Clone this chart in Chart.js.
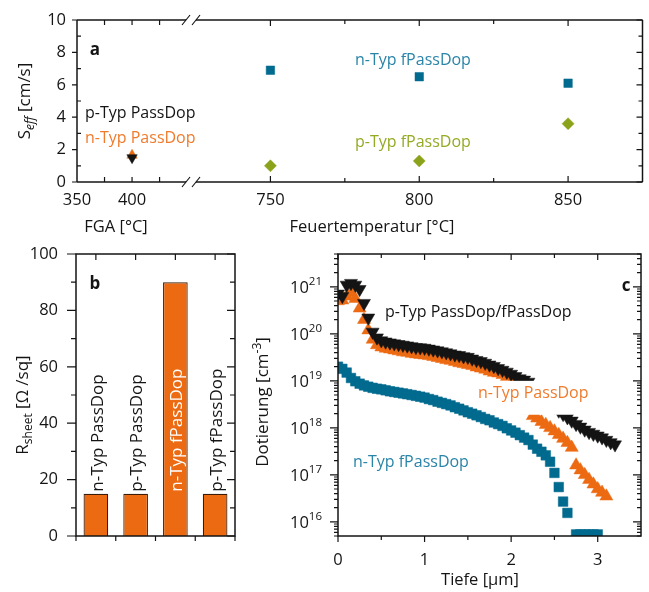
<!DOCTYPE html>
<html>
<head>
<meta charset="utf-8">
<title>PassDop / fPassDop</title>
<script src="https://cdn.jsdelivr.net/npm/chart.js@4.4.1/dist/chart.umd.min.js"></script>
<style>
  body { margin: 0; background: #fff; }
  #fig { position: relative; width: 649px; height: 592px; }
  #fig canvas { position: absolute; left: 0; top: 0; }
</style>
</head>
<body>
<div id="fig">
  <canvas id="seffLow" width="649" height="592"></canvas>
  <canvas id="seffHigh" width="649" height="592"></canvas>
  <canvas id="sheet" width="649" height="592"></canvas>
  <canvas id="profile" width="649" height="592"></canvas>
</div>
<script>
// (a) S_eff after forming gas anneal and after firing
const fgaTemp = [400];
const seffNPassDop = [1.65];
const seffPPassDop = [1.5];
const fireTemp = [750, 800, 850];
const seffNfPassDop = [6.9, 6.5, 6.1];
const seffPfPassDop = [1.0, 1.3, 3.6];
const seffTicks = [0, 2, 4, 6, 8, 10];
const fgaTicks = [350, 400];
const fireTicks = [750, 800, 850];

// (b) sheet resistance
const sheetNames = ["n-Typ PassDop", "p-Typ PassDop", "n-Typ fPassDop", "p-Typ fPassDop"];
const sheetValues = [15, 15, 90, 15];
const sheetTicks = [0, 20, 40, 60, 80, 100];

// (c) doping profiles, depth in µm, doping in cm^-3
const depth = [0, 0.05, 0.1, 0.15, 0.2, 0.25, 0.3, 0.35, 0.4, 0.45,
  0.5, 0.55, 0.6, 0.65, 0.7, 0.75, 0.8, 0.85, 0.9, 0.95,
  1, 1.05, 1.1, 1.15, 1.2, 1.25, 1.3, 1.35, 1.4, 1.45,
  1.5, 1.55, 1.6, 1.65, 1.7, 1.75, 1.8, 1.85, 1.9, 1.95,
  2, 2.05, 2.1, 2.15, 2.2, 2.25, 2.3, 2.35, 2.4, 2.45,
  2.5, 2.55, 2.6, 2.65, 2.7, 2.75, 2.8, 2.85, 2.9, 2.95,
  3, 3.05, 3.1, 3.15, 3.2];
const dopP = [7.1e20, 6.3e20, 1.1e21, 1.2e21, 1.1e21, 8.9e20, 4.5e20, 2.2e20, 1.1e20, 8.3e19,
  7.2e19, 6.8e19, 6.5e19, 6.2e19, 6.0e19, 5.8e19, 5.6e19, 5.4e19, 5.2e19, 5.1e19,
  5.0e19, 4.8e19, 4.6e19, 4.4e19, 4.2e19, 4.0e19, 3.8e19, 3.6e19, 3.5e19, 3.3e19,
  3.2e19, 2.95e19, 2.75e19, 2.6e19, 2.4e19, 2.2e19, 2.05e19, 1.85e19, 1.7e19, 1.55e19,
  1.4e19, 1.25e19, 1.12e19, 1.05e19, 9.5e18, 7.9e18, 6.5e18, 5.2e18, 4.3e18, 3.5e18,
  2.8e18, 2.3e18, 1.95e18, 1.66e18, 1.41e18, 1.2e18, 1.05e18, 9.1e17, 8.1e17, 7.4e17,
  6.8e17, 6.2e17, 5.5e17, 4.9e17, 4.4e17];
const dopN = [5.0e20, 5.2e20, 6.3e20, 7.4e20, 5.6e20, 3.5e20, 2.0e20, 1.2e20, 7.6e19, 5.8e19,
  5.2e19, 4.9e19, 4.7e19, 4.5e19, 4.3e19, 4.1e19, 4.0e19, 3.8e19, 3.7e19, 3.6e19,
  3.5e19, 3.4e19, 3.25e19, 3.1e19, 2.95e19, 2.8e19, 2.7e19, 2.55e19, 2.4e19, 2.3e19,
  2.2e19, 2.1e19, 1.95e19, 1.85e19, 1.75e19, 1.6e19, 1.5e19, 1.45e19, 1.35e19, 1.23e19,
  8.9e18, 6.6e18, 4.7e18, 3.3e18, 2.4e18, 1.8e18, 1.6e18, 1.35e18, 1.17e18, 1.0e18,
  8.5e17, 7.1e17, 5.9e17, 4.8e17, 3.8e17, 1.6e17, 1.26e17, 1.0e17, 7.9e16, 6.3e16,
  5.0e16, 4.2e16, 3.5e16];
const dopNf = [2.0e19, 1.8e19, 1.5e19, 1.15e19, 9.8e18, 8.7e18, 8.0e18, 7.5e18, 7.1e18, 6.8e18,
  6.6e18, 6.3e18, 6.0e18, 5.8e18, 5.6e18, 5.4e18, 5.2e18, 5.0e18, 4.8e18, 4.6e18,
  4.4e18, 4.1e18, 3.9e18, 3.6e18, 3.4e18, 3.2e18, 3.0e18, 2.75e18, 2.55e18, 2.35e18,
  2.15e18, 2.0e18, 1.85e18, 1.7e18, 1.55e18, 1.45e18, 1.3e18, 1.2e18, 1.1e18, 9.8e17,
  8.8e17, 7.9e17, 7.0e17, 6.2e17, 5.5e17, 4.4e17, 3.6e17, 3.1e17, 2.6e17, 1.9e17,
  1.1e17, 5.5e16, 2.7e16, 1.55e16, null, 5.4e15, 5.4e15, 5.4e15, 5.4e15, 5.4e15, 5.4e15];
const depthTicks = [0, 1, 2, 3];
const dopDecades = [16, 17, 18, 19, 20, 21];

const W = 649, H = 592;
const FAMILY = '"Open Sans", "DejaVu Sans", sans-serif';
const INK = "#141414";
const ORANGE = "#ec6a12";
const BLUE = "#006b8f";
const GREEN = "#8ba21b";
const BLUE_TXT = "#2a84a8";
const GREEN_TXT = "#93aa25";
const ORANGE_TXT = "#f07b2c";
const tickFont = "16.5px " + FAMILY;
const labelFont = "16px " + FAMILY;

function seg(ctx, x1, y1, x2, y2) {
  ctx.beginPath();
  ctx.moveTo(x1, y1);
  ctx.lineTo(x2, y2);
  ctx.stroke();
}

// tick marks along one edge of the plot box; len > 0 points into the plot
function edgeTicks(chart, axis, edge, values, len) {
  const { ctx, chartArea: a } = chart;
  const sc = chart.scales[axis];
  ctx.beginPath();
  for (const v of values) {
    const p = sc.getPixelForValue(v);
    if (edge === "bottom") { ctx.moveTo(p, a.bottom); ctx.lineTo(p, a.bottom - len); }
    if (edge === "top") { ctx.moveTo(p, a.top); ctx.lineTo(p, a.top + len); }
    if (edge === "left") { ctx.moveTo(a.left, p); ctx.lineTo(a.left + len, p); }
    if (edge === "right") { ctx.moveTo(a.right, p); ctx.lineTo(a.right - len, p); }
  }
  ctx.stroke();
}

function text(ctx, str, x, y, font, color, align) {
  ctx.font = font;
  ctx.fillStyle = color;
  ctx.textAlign = align || "left";
  ctx.textBaseline = "middle";
  ctx.fillText(str, x, y);
}

// runs of text side by side, each run with its own font and vertical shift
function richText(ctx, runs, x, y, align, color) {
  let w = 0;
  for (const r of runs) { ctx.font = r.font; w += ctx.measureText(r.t).width; }
  let cx = align === "center" ? x - w / 2 : align === "right" ? x - w : x;
  ctx.fillStyle = color || INK;
  ctx.textAlign = "left";
  ctx.textBaseline = "alphabetic";
  for (const r of runs) {
    ctx.font = r.font;
    ctx.fillText(r.t, cx, y + (r.dy || 0));
    cx += ctx.measureText(r.t).width;
  }
}

function verticalTitle(ctx, runs, x, y) {
  ctx.save();
  ctx.translate(x, y);
  ctx.rotate(-Math.PI / 2);
  richText(ctx, runs, 0, 6, "center");
  ctx.restore();
}

function slash(ctx, x, y) {
  seg(ctx, x - 4, y + 5, x + 4, y - 5);
}

const pts = (xs, ys) => ys.map((y, i) => ({ x: xs[i], y })).filter(p => p.y !== null);

function markers(data, style, color, r, rot) {
  return {
    data,
    pointStyle: style,
    pointRadius: r,
    pointRotation: rot || 0,
    pointBackgroundColor: color,
    pointBorderColor: color,
    pointBorderWidth: 0.5,
  };
}

function baseOptions(area, xs, ys) {
  return {
    responsive: false,
    animation: false,
    events: [],
    layout: { padding: { left: area[0], top: area[1], right: W - area[2], bottom: H - area[3] } },
    scales: { x: Object.assign({ display: false }, xs), y: Object.assign({ display: false }, ys) },
    plugins: { legend: { display: false }, tooltip: { enabled: false } },
  };
}

// ---------- (a) left part: forming gas anneal ----------
new Chart(document.getElementById("seffLow"), {
  type: "scatter",
  data: {
    datasets: [
      markers(pts(fgaTemp, seffPPassDop), "triangle", INK, 6, 180),
      markers(pts(fgaTemp, seffNPassDop), "triangle", ORANGE, 6),
    ],
  },
  options: baseOptions([77, 20, 186, 182], { type: "linear", min: 350, max: 449 }, { min: 0, max: 10 }),
  plugins: [{
    id: "seffLowDecor",
    afterDatasetsDraw(chart) {
      const { ctx, chartArea: a } = chart;
      ctx.save();
      ctx.strokeStyle = INK;
      ctx.lineWidth = 1.5;
      seg(ctx, a.left, a.top, a.left, a.bottom);
      seg(ctx, a.left, a.top, a.right, a.top);
      seg(ctx, a.left, a.bottom, a.right, a.bottom);
      ctx.lineWidth = 1.2;
      slash(ctx, a.right, a.top);
      slash(ctx, a.right, a.bottom);
      edgeTicks(chart, "y", "left", seffTicks, -5);
      edgeTicks(chart, "y", "left", [1, 3, 5, 7, 9], 4);
      edgeTicks(chart, "x", "bottom", [375, 400, 425], 5);
      edgeTicks(chart, "x", "top", [375, 400, 425], 5);
      for (const v of seffTicks) text(ctx, String(v), 66, chart.scales.y.getPixelForValue(v), tickFont, INK, "right");
      for (const v of fgaTicks) text(ctx, String(v), chart.scales.x.getPixelForValue(v), 200, tickFont, INK, "center");
      text(ctx, "FGA [°C]", 116, 227, tickFont, INK, "center");
      verticalTitle(ctx, [
        { t: "S", font: "17px " + FAMILY },
        { t: "eff", font: "italic 12px " + FAMILY, dy: 4 },
        { t: " [cm/s]", font: "17px " + FAMILY },
      ], 24, 101);
      text(ctx, "a", 95, 50, "bold 17px " + FAMILY, INK, "center");
      text(ctx, "p-Typ PassDop", 85, 113, labelFont, INK);
      text(ctx, "n-Typ PassDop", 85, 138, labelFont, ORANGE_TXT);
      ctx.restore();
    },
  }],
});

// ---------- (a) right part: firing temperature ----------
new Chart(document.getElementById("seffHigh"), {
  type: "scatter",
  data: {
    datasets: [
      markers(pts(fireTemp, seffNfPassDop), "rect", BLUE, 6),
      markers(pts(fireTemp, seffPfPassDop), "rectRot", GREEN, 6),
    ],
  },
  options: baseOptions([196, 20, 647, 182], { type: "linear", min: 725, max: 875 }, { min: 0, max: 10 }),
  plugins: [{
    id: "seffHighDecor",
    afterDatasetsDraw(chart) {
      const { ctx, chartArea: a } = chart;
      ctx.save();
      ctx.strokeStyle = INK;
      ctx.lineWidth = 1.5;
      seg(ctx, a.right, a.top, a.right, a.bottom);
      seg(ctx, a.left, a.top, a.right, a.top);
      seg(ctx, a.left, a.bottom, a.right, a.bottom);
      ctx.lineWidth = 1.2;
      slash(ctx, a.left, a.top);
      slash(ctx, a.left, a.bottom);
      edgeTicks(chart, "y", "right", seffTicks, 6);
      edgeTicks(chart, "y", "right", [1, 3, 5, 7, 9], 4);
      edgeTicks(chart, "x", "bottom", fireTicks, 6);
      edgeTicks(chart, "x", "bottom", [775, 825], 4);
      edgeTicks(chart, "x", "top", fireTicks, 6);
      edgeTicks(chart, "x", "top", [775, 825], 4);
      for (const v of fireTicks) text(ctx, String(v), chart.scales.x.getPixelForValue(v), 200, tickFont, INK, "center");
      text(ctx, "Feuertemperatur [°C]", 372, 227, tickFont, INK, "center");
      text(ctx, "n-Typ fPassDop", 355, 60, labelFont, BLUE_TXT);
      text(ctx, "p-Typ fPassDop", 355, 142, labelFont, GREEN_TXT);
      ctx.restore();
    },
  }],
});

// ---------- (b) sheet resistance ----------
new Chart(document.getElementById("sheet"), {
  type: "bar",
  data: {
    labels: sheetNames,
    datasets: [{
      data: sheetValues,
      backgroundColor: ORANGE,
      borderColor: "#3a1c08",
      borderWidth: 1.2,
      barPercentage: 0.62,
      categoryPercentage: 1,
    }],
  },
  options: baseOptions([76, 254, 235, 536], {}, { min: 0, max: 100 }),
  plugins: [{
    id: "sheetDecor",
    afterDatasetsDraw(chart) {
      const { ctx, chartArea: a } = chart;
      const x = chart.scales.x, y = chart.scales.y;
      ctx.save();
      ctx.strokeStyle = INK;
      ctx.lineWidth = 1.5;
      ctx.strokeRect(a.left, a.top, a.right - a.left, a.bottom - a.top);
      ctx.lineWidth = 1.2;
      edgeTicks(chart, "y", "left", sheetTicks, -9);
      edgeTicks(chart, "y", "left", [10, 30, 50, 70, 90], -5);
      edgeTicks(chart, "y", "right", sheetTicks, 8);
      edgeTicks(chart, "y", "right", [10, 30, 50, 70, 90], 5);
      edgeTicks(chart, "x", "bottom", [-0.5, 0.5, 1.5, 2.5, 3.5], -5);
      edgeTicks(chart, "x", "top", [0, 1, 2, 3], 6);
      for (const v of sheetTicks) text(ctx, String(v), 58, y.getPixelForValue(v), tickFont, INK, "right");
      verticalTitle(ctx, [
        { t: "R", font: "17px " + FAMILY },
        { t: "sheet", font: "12px " + FAMILY, dy: 4 },
        { t: " [Ω /sq]", font: "17px " + FAMILY },
      ], 22, 405);
      text(ctx, "b", 95, 284, "bold 17px " + FAMILY, INK, "center");
      // names written upwards, starting just above the shortest bar
      const start = y.getPixelForValue(Math.min(...sheetValues)) - 2;
      chart.getDatasetMeta(0).data.forEach((bar, i) => {
        ctx.save();
        ctx.translate(bar.x + 2, start);
        ctx.rotate(-Math.PI / 2);
        ctx.font = "17px " + FAMILY;
        const inside = bar.y < start - ctx.measureText(sheetNames[i]).width;
        text(ctx, sheetNames[i], 0, 0, "17px " + FAMILY, inside ? "#fff" : INK, "left");
        ctx.restore();
      });
      ctx.restore();
    },
  }],
});

// ---------- (c) doping profiles ----------
const logMajor = dopDecades.map(e => Math.pow(10, e));
const logMinor = [];
for (let e = 15; e <= 21; e++) {
  for (let k = 2; k <= 9; k++) {
    const v = k * Math.pow(10, e);
    if (v >= 5e15 && v <= 5e21) logMinor.push(v);
  }
}

new Chart(document.getElementById("profile"), {
  type: "scatter",
  data: {
    datasets: [
      markers(pts(depth, dopP), "triangle", INK, 7.5, 180),
      markers(pts(depth, dopN), "triangle", ORANGE, 7.5),
      markers(pts(depth, dopNf), "rect", BLUE, 6.8),
    ],
  },
  options: baseOptions([338, 254, 647, 536], { type: "linear", min: 0, max: 3.5 }, { type: "logarithmic", min: 5e15, max: 5e21 }),
  plugins: [{
    id: "profileDecor",
    afterDatasetsDraw(chart) {
      const { ctx, chartArea: a } = chart;
      const x = chart.scales.x, y = chart.scales.y;
      ctx.save();
      // white backing behind the n-type label
      const bx = x.getPixelForValue(1.78), by = y.getPixelForValue(1.0e19);
      ctx.fillStyle = "#fff";
      ctx.fillRect(bx, by, x.getPixelForValue(3.45) - bx, y.getPixelForValue(1.9e18) - by);
      ctx.strokeStyle = INK;
      ctx.lineWidth = 1.5;
      ctx.strokeRect(a.left, a.top, a.right - a.left, a.bottom - a.top);
      ctx.lineWidth = 1.2;
      edgeTicks(chart, "y", "left", logMajor, -8);
      edgeTicks(chart, "y", "left", logMinor, -4);
      edgeTicks(chart, "y", "right", logMajor, 8);
      edgeTicks(chart, "y", "right", logMinor, 4);
      edgeTicks(chart, "x", "bottom", depthTicks, -6);
      edgeTicks(chart, "x", "bottom", [0.5, 1.5, 2.5], -4);
      edgeTicks(chart, "x", "top", depthTicks, 6);
      edgeTicks(chart, "x", "top", [0.5, 1.5, 2.5], 4);
      for (const v of depthTicks) text(ctx, String(v), x.getPixelForValue(v), 560, tickFont, INK, "center");
      dopDecades.forEach((e, i) => {
        richText(ctx, [
          { t: "10", font: tickFont },
          { t: String(e), font: "11.5px " + FAMILY, dy: -8 },
        ], 322, y.getPixelForValue(logMajor[i]) + 6, "right");
      });
      text(ctx, "Tiefe [µm]", 480, 580, tickFont, INK, "center");
      verticalTitle(ctx, [
        { t: "Dotierung [cm", font: "17px " + FAMILY },
        { t: "-3", font: "12px " + FAMILY, dy: -7 },
        { t: "]", font: "17px " + FAMILY },
      ], 262, 402);
      text(ctx, "c", 626, 286, "bold 17px " + FAMILY, INK, "center");
      text(ctx, "p-Typ PassDop/fPassDop", 385, 312, labelFont, INK);
      text(ctx, "n-Typ PassDop", 478, 393, labelFont, ORANGE_TXT);
      text(ctx, "n-Typ fPassDop", 353, 462, labelFont, BLUE_TXT);
      ctx.restore();
    },
  }],
});
</script>
</body>
</html>
